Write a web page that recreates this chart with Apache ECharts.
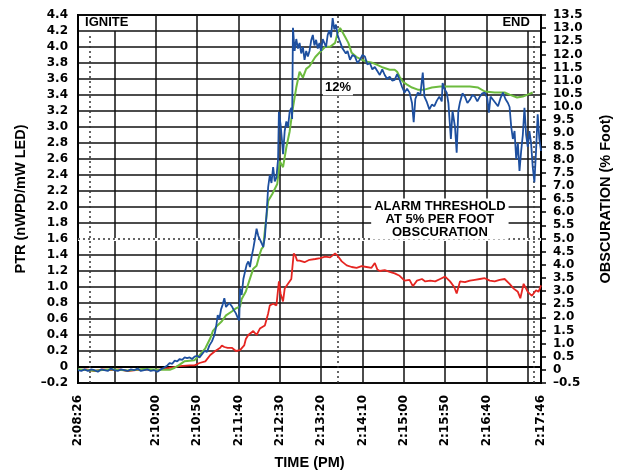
<!DOCTYPE html>
<html>
<head>
    <meta charset="utf-8">
    <title>PTR / obscuration</title>
    <style>
        html, body { margin: 0; padding: 0; background: #fff; }
        #main { width: 621px; height: 475px; }
    </style>
</head>
<body>
<div id="main"></div>
<script src="https://cdn.jsdelivr.net/npm/echarts@6/dist/echarts.min.js"></script>
<script>
    // time is seconds after 2:08:26 PM
    var startClock = 2 * 3600 + 8 * 60 + 26;
    var timeLabels = [0, 94, 144, 194, 244, 294, 344, 394, 444, 494, 560];
    var gridTimes = [94, 144, 194, 244, 294, 344, 394, 444, 494];
    var shortGridTimes = [44, 544];
    var igniteTime = 14.5, peakTime = 314.4, endTime = 551;
    var alarmPTR = 1.6;

    // PTR, blue LED (left axis)
    var blueData = [[0,-0.04],[4,-0.05],[8,-0.03],[12,-0.05],[16,-0.03],[20,-0.04],[24,-0.06],[28,-0.03],[32,-0.04],[36,-0.05],[40,-0.02],[44,-0.04],[48,-0.05],[52,-0.03],[56,-0.04],[60,-0.05],[64,-0.03],[68,-0.04],[72,-0.02],[76,-0.05],[80,-0.04],[84,-0.03],[88,-0.05],[92,-0.04],[96,-0.06],[100,-0.03],[104,-0.01],[108,0.02],[111,0.05],[114,0.04],[117,0.08],[120,0.07],[123,0.10],[126,0.09],[129,0.12],[132,0.11],[135,0.12],[138,0.10],[141,0.13],[144,0.14],[147,0.12],[150,0.16],[153,0.20],[156,0.19],[159,0.27],[162,0.32],[165,0.40],[167,0.50],[169,0.65],[171,0.60],[173,0.72],[175,0.78],[177,0.86],[179,0.75],[181,0.73],[183,0.80],[186,0.76],[188,0.72],[191,0.67],[193,0.62],[195,0.58],[196,0.98],[198,0.90],[200,1.10],[202,1.19],[204,1.28],[206,1.32],[208,1.25],[210,1.38],[212,1.48],[214,1.60],[216,1.73],[218,1.64],[220,1.66],[222,1.55],[224,1.50],[226,1.62],[228,1.90],[230,2.25],[232,2.40],[234,2.30],[236,2.50],[238,2.32],[240,2.37],[242,2.60],[243,3.19],[245,3.03],[247,2.80],[248,2.66],[250,2.95],[252,3.07],[254,3.00],[256,3.19],[258,3.24],[259,3.10],[260,4.24],[262,3.95],[264,4.10],[266,3.98],[268,4.05],[270,3.92],[272,4.00],[274,3.84],[276,3.95],[278,3.88],[280,3.95],[282,4.08],[284,4.15],[286,4.02],[288,4.09],[290,3.98],[292,4.05],[294,3.95],[296,4.10],[298,4.09],[300,4.00],[302,4.15],[304,4.21],[306,4.12],[308,4.36],[310,4.22],[312,4.28],[314,4.15],[316,4.09],[318,4.10],[320,3.98],[322,4.00],[324,3.92],[326,3.95],[329,3.84],[332,3.90],[335,3.88],[338,3.80],[341,3.84],[344,3.90],[347,3.88],[350,3.78],[353,3.80],[356,3.72],[359,3.75],[362,3.70],[365,3.65],[368,3.72],[371,3.65],[374,3.60],[377,3.63],[380,3.58],[383,3.59],[386,3.66],[389,3.59],[392,3.50],[395,3.43],[398,3.48],[401,3.43],[404,3.30],[406,3.06],[408,3.35],[411,3.43],[414,3.40],[417,3.68],[419,3.38],[422,3.31],[425,3.22],[428,3.28],[431,3.26],[434,3.33],[437,3.38],[440,3.32],[441,3.55],[443,3.48],[446,3.43],[448,3.30],[451,2.85],[453,3.20],[456,3.00],[458,2.68],[460,3.20],[462,3.31],[465,3.42],[468,3.38],[471,3.30],[474,3.34],[477,3.40],[480,3.38],[483,3.32],[486,3.38],[489,3.42],[492,3.43],[495,3.36],[497,3.18],[499,3.38],[502,3.34],[505,3.30],[508,3.26],[511,3.36],[514,3.43],[517,3.35],[520,3.30],[522,3.25],[524,3.00],[526,2.85],[528,2.95],[530,2.60],[532,2.80],[534,2.45],[536,2.70],[538,2.90],[540,3.24],[542,2.90],[544,2.75],[546,2.95],[548,2.80],[550,2.50],[552,2.31],[554,2.70],[556,3.16],[558,2.85],[560,2.70]];

    // obscuration, % per foot (right axis)
    var greenData = [[0,0.02],[20,-0.03],[40,0.02],[60,-0.02],[80,0.03],[100,0.00],[111,0.00],[117,0.08],[123,0.20],[129,0.33],[135,0.35],[141,0.37],[147,0.56],[154,0.82],[160,1.20],[163,1.47],[169,1.70],[174,1.85],[179,2.07],[186,2.22],[191,2.34],[196,2.41],[198,2.70],[203,2.98],[208,3.47],[212,3.85],[216,3.96],[220,4.42],[222,4.60],[224,4.68],[226,5.29],[230,6.42],[235,6.69],[241,7.07],[244,7.94],[248,7.71],[252,8.47],[256,9.07],[260,9.98],[264,10.74],[268,11.34],[272,11.12],[276,11.45],[280,11.55],[287,11.9],[293,12.1],[299,12.29],[305,12.29],[311,12.44],[314,12.82],[317,13.01],[319,13.0],[323,12.67],[327,12.44],[331,12.06],[337,11.9],[343,11.8],[350,11.72],[356,11.68],[362,11.6],[369,11.5],[377,11.42],[383,11.42],[386,11.34],[389,11.15],[393,10.96],[398,10.85],[404,10.74],[411,10.66],[419,10.66],[428,10.74],[438,10.78],[450,10.78],[462,10.78],[474,10.78],[484,10.74],[492,10.59],[504,10.55],[516,10.55],[522,10.47],[531,10.36],[538,10.4],[544,10.47],[550,10.55]];

    // PTR, IR LED (left axis)
    var redData = [[0,-0.04],[10,-0.03],[20,-0.05],[30,-0.03],[40,-0.04],[50,-0.03],[60,-0.05],[70,-0.04],[80,-0.03],[90,-0.04],[100,-0.03],[111,-0.01],[123,0.01],[135,0.02],[141,0.02],[147,0.05],[154,0.07],[160,0.15],[166,0.20],[172,0.24],[174,0.27],[177,0.25],[181,0.24],[186,0.24],[191,0.20],[196,0.21],[201,0.27],[203,0.35],[206,0.40],[208,0.38],[212,0.45],[216,0.40],[220,0.48],[226,0.52],[230,0.67],[232,0.77],[236,0.79],[240,0.77],[243,1.07],[245,0.92],[248,0.82],[250,0.98],[254,1.04],[258,1.10],[260,1.32],[261,1.42],[263,1.39],[265,1.33],[268,1.33],[274,1.31],[280,1.34],[287,1.35],[293,1.36],[299,1.38],[305,1.37],[311,1.42],[314,1.39],[319,1.32],[325,1.27],[331,1.25],[337,1.24],[343,1.26],[349,1.25],[355,1.24],[359,1.30],[362,1.22],[365,1.20],[371,1.21],[377,1.19],[383,1.17],[389,1.14],[395,1.08],[401,1.09],[405,1.01],[410,1.08],[416,1.10],[420,1.07],[426,1.08],[432,1.07],[438,1.10],[444,1.13],[450,1.07],[455,1.00],[458,0.92],[462,1.07],[468,1.06],[474,1.08],[480,1.09],[486,1.10],[492,1.11],[498,1.08],[504,1.07],[510,1.09],[516,1.10],[522,1.04],[527,0.98],[532,0.94],[535,0.86],[539,1.04],[544,0.94],[549,0.89],[554,0.96],[557,0.94],[560,1.02]];

    var font = "'Liberation Sans', Arial, sans-serif";
    var numFont = "'DejaVu Sans', Verdana, sans-serif";

    var clock = function (t) {
        var s = startClock + t;
        var h = Math.floor(s / 3600), m = Math.floor(s / 60) % 60, sec = s % 60;
        return h + ':' + (m < 10 ? '0' : '') + m + ':' + (sec < 10 ? '0' : '') + sec;
    };

    var num = function (v) {
        if (Math.abs(v) < 1e-9) return '0';
        return v < 0 ? '\u2013' + (-v).toFixed(1) : v.toFixed(1);
    };

    // grid lines and dotted markers
    var lines = [];
    gridTimes.forEach(function (t) {
        lines.push([{coord: [t, -0.2]}, {coord: [t, 4.4]}]);
    });
    shortGridTimes.forEach(function (t) {
        lines.push([{coord: [t, -0.2]}, {coord: [t, 4.2]}]);
    });
    var dotted = {color: '#333', width: 1.5, type: [2, 3]};
    lines.push([{coord: [0, alarmPTR], lineStyle: {color: '#fff', width: 3, type: 'solid'}},
                {coord: [560, alarmPTR]}]);
    lines.push([{coord: [0, alarmPTR], lineStyle: dotted}, {coord: [560, alarmPTR]}]);
    lines.push([{coord: [igniteTime, -0.2], lineStyle: dotted}, {coord: [igniteTime, 4.15]}]);
    lines.push([{coord: [peakTime, -0.2], lineStyle: dotted}, {coord: [peakTime, 4.4]}]);
    lines.push([{coord: [endTime, -0.2], lineStyle: dotted}, {coord: [endTime, 4.15]}]);

    var nameStyle = {fontFamily: font, fontWeight: 'bold', fontSize: 14.5, color: '#000'};
    var tickStyle = {fontFamily: numFont, fontWeight: 'bold', fontSize: 12, color: '#000'};

    var myChart = echarts.init(document.getElementById('main'));

    var option = {
        animation: false,
        grid: {
            left: 78, right: 80, top: 15, bottom: 90,
            show: true, borderColor: '#000', borderWidth: 2
        },
        xAxis: {
            type: 'value',
            min: 0, max: 560,
            name: 'TIME (PM)',
            nameLocation: 'middle',
            nameGap: 72,
            nameTextStyle: nameStyle,
            axisLine: {show: true, lineStyle: {color: '#000', width: 2}},
            axisTick: {show: false},
            splitLine: {show: false},
            axisLabel: Object.assign({
                customValues: timeLabels,
                rotate: 90,
                margin: 12,
                formatter: clock
            }, tickStyle)
        },
        yAxis: [
            {
                type: 'value',
                min: -0.2, max: 4.4, interval: 0.2,
                name: 'PTR (nWPD/mW LED)',
                nameLocation: 'middle',
                nameRotate: 90,
                nameGap: 50,
                nameTextStyle: nameStyle,
                axisLine: {show: true, lineStyle: {color: '#000', width: 2}},
                axisTick: {show: false},
                splitLine: {show: true, lineStyle: {color: '#111', width: 1.5}},
                axisLabel: Object.assign({margin: 10, formatter: num}, tickStyle)
            },
            {
                type: 'value',
                min: -0.5, max: 13.5, interval: 0.5,
                name: 'OBSCURATION (% Foot)',
                nameLocation: 'middle',
                nameRotate: 90,
                nameGap: 57,
                nameTextStyle: nameStyle,
                axisLine: {show: true, lineStyle: {color: '#000', width: 2}},
                axisTick: {show: true, length: 5, lineStyle: {color: '#000', width: 1.5}},
                splitLine: {show: false},
                axisLabel: Object.assign({margin: 12, formatter: num}, tickStyle)
            }
        ],
        series: [
            {
                name: 'PTR IR',
                type: 'line',
                yAxisIndex: 0,
                data: redData,
                showSymbol: false,
                lineStyle: {color: '#e52521', width: 1.8},
                z: 2,
                markLine: {
                    silent: true,
                    symbol: 'none',
                    label: {show: false},
                    lineStyle: {color: '#111', width: 1.5, type: 'solid'},
                    data: lines,
                    z: 1
                }
            },
            {
                name: 'Obscuration',
                type: 'line',
                yAxisIndex: 1,
                data: greenData,
                showSymbol: false,
                lineStyle: {color: '#6dbb3f', width: 2},
                z: 3
            },
            {
                name: 'PTR blue',
                type: 'line',
                yAxisIndex: 0,
                data: blueData,
                showSymbol: false,
                lineStyle: {color: '#1d4f9f', width: 1.8},
                z: 4
            }
        ]
    };

    myChart.setOption(option);

    var px = function (t, v) {
        return myChart.convertToPixel({xAxisIndex: 0, yAxisIndex: 0}, [t, v]);
    };
    var textStyle = function (text, align) {
        return {text: text, fontFamily: font, fontWeight: 'bold', fontSize: 13, fill: '#000',
                align: align, verticalAlign: 'middle'};
    };
    var pIgnite = px(8.5, 4.31), pEnd = px(546.5, 4.31), p12 = px(peakTime, 3.49), pAlarm = px(437.7, 1.85);

    myChart.setOption({
        graphic: [
            {type: 'text', x: pIgnite[0], y: pIgnite[1], z: 100, style: textStyle('IGNITE', 'left')},
            {type: 'text', x: pEnd[0], y: pEnd[1], z: 100, style: textStyle('END', 'right')},
            {type: 'text', x: p12[0], y: p12[1], z: 100,
             style: Object.assign(textStyle('12%', 'center'), {backgroundColor: '#fff', padding: [1, 2]})},
            {type: 'text', x: pAlarm[0], y: pAlarm[1], z: 100,
             style: Object.assign(textStyle('ALARM THRESHOLD\nAT 5% PER FOOT\nOBSCURATION', 'center'),
                 {backgroundColor: '#fff', padding: [1, 3], lineHeight: 13})}
        ]
    });
</script>
</body>
</html>
